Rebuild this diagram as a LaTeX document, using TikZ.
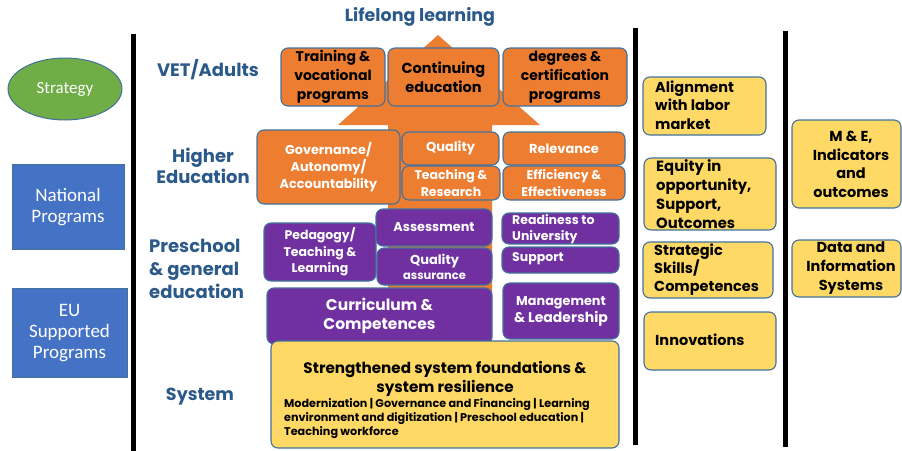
\documentclass[tikz,border=0pt]{standalone}
\usepackage{fontspec}
\setmainfont{Poppins}
\newfontfamily\calib{Carlito}
\usetikzlibrary{shapes.geometric}
\definecolor{orng}{HTML}{ED7D31}
\definecolor{purp}{HTML}{7030A0}
\definecolor{yell}{HTML}{FFD966}
\definecolor{bord}{HTML}{41719C}
\definecolor{grn}{HTML}{70AD47}
\definecolor{blu}{HTML}{4472C4}
\definecolor{lbl}{HTML}{2B5A8A}
\tikzset{
  bx/.style={draw=bord, line width=1.1pt, rounded corners=7pt, inner sep=0pt, align=center, font=\bfseries},
  ob/.style={bx, fill=orng},
  pb/.style={bx, fill=purp, text=white},
  yb/.style={bx, fill=yell},
  lab/.style={text=lbl, font=\bfseries, inner sep=0pt},
  sq/.style={fill=blu, draw=bord, line width=0.8pt, text=white, align=center, inner sep=0pt, font=\calib\fontsize{19}{21}\selectfont},
  vline/.style={line width=5pt, black},
  txt/.style={inner sep=0pt, font=\bfseries}
}
\begin{document}
\begin{tikzpicture}[x=1pt,y=-1pt]
\useasboundingbox (0,0) rectangle (902,450);
% vertical lines
\coordinate (l1t) at (133.5,34); \coordinate (l1b) at (133.5,452);
\coordinate (l2t) at (635,28); \coordinate (l2b) at (635,445);
\coordinate (l3t) at (785,31); \coordinate (l3b) at (785,447);
\draw[vline] (l1t) -- (l1b);
\draw[vline] (l2t) -- (l2b);
\draw[vline] (l3t) -- (l3b);
% left column
\node[ellipse, fill=grn, draw=bord, line width=1pt, minimum width=114, minimum height=62, inner sep=0pt, text=white, font=\calib\fontsize{17}{19}\selectfont] (strat) at (65,89) {Strategy};
\node[sq, minimum width=112, minimum height=85] (natp) at (68,207) {National\\Programs};
\node[sq, minimum width=115, minimum height=89] (eup) at (69.5,333) {EU\\Supported\\Programs};
% row labels
\node[lab, font=\bfseries\fontsize{17.5}{21}\selectfont] (lifel) at (420,17) {Lifelong learning};
\node[lab, font=\bfseries\fontsize{18}{21}\selectfont] (vet) at (208,70) {VET/Adults};
\node[lab, align=center, font=\bfseries\fontsize{18}{21}\selectfont] (higher) at (203,166) {Higher\\Education};
\node[lab, align=left, anchor=west, font=\bfseries\fontsize{18}{23}\selectfont] (presch) at (149,269) {Preschool\\\& general\\education};
\node[lab, font=\bfseries\fontsize{17.5}{21}\selectfont] (sys) at (200,397) {System};
% arrow
\fill[orng] (438,35) -- (540,125) -- (492,125) -- (492,346) -- (388,346) -- (388,125) -- (338,125) -- cycle;
% VET row
\node[ob, minimum width=104, minimum height=58, font=\bfseries\fontsize{14}{19}\selectfont] (train) at (333,77) {Training \&\\vocational\\programs};
\node[ob, minimum width=111, minimum height=58, font=\bfseries\fontsize{14.5}{19}\selectfont] (cont) at (443.5,77) {Continuing\\education};
\node[ob, minimum width=124, minimum height=58, font=\bfseries\fontsize{14}{19}\selectfont] (degr) at (565,77) {degrees \&\\certification\\programs};
% Higher education row
\node[ob, text=white, minimum width=143, minimum height=74, font=\bfseries\fontsize{12.8}{17}\selectfont] (gov) at (328.5,167) {Governance/\\Autonomy/\\Accountability};
\node[ob, text=white, minimum width=97, minimum height=33, font=\bfseries\fontsize{13}{17}\selectfont] (qual) at (450.5,148.5) {Quality};
\node[ob, text=white, minimum width=98, minimum height=34, font=\bfseries\fontsize{12.5}{17}\selectfont] (teach) at (451,183) {Teaching \&\\Research};
\node[ob, text=white, minimum width=122, minimum height=33, font=\bfseries\fontsize{13}{17}\selectfont] (relev) at (564,148.5) {Relevance};
\node[ob, text=white, minimum width=122, minimum height=34, font=\bfseries\fontsize{12.5}{17}\selectfont] (effic) at (564,183) {Efficiency \&\\Effectiveness};
% Preschool row
\node[pb, minimum width=112, minimum height=58, font=\bfseries\fontsize{12.5}{16.5}\selectfont] (peda) at (320,252) {Pedagogy/\\Teaching \&\\Learning};
\node[pb, minimum width=116, minimum height=37, font=\bfseries\fontsize{12.8}{16}\selectfont] (assess) at (434,227.5) {Assessment};
\node[pb, minimum width=115, minimum height=37, font=\bfseries\fontsize{13}{15}\selectfont] (qass) at (434.5,266.5) {Quality\\{\fontsize{11.5}{13}\selectfont assurance}};
\node[pb, minimum width=117, minimum height=31] (ready) at (560.5,228.5) {};
\node[txt, text=white, anchor=west, align=left, font=\bfseries\fontsize{12.5}{16}\selectfont] (readyt) at (512,229) {Readiness to\\University};
\node[pb, minimum width=117, minimum height=26] (supp) at (560.5,260) {};
\node[txt, text=white, anchor=west, font=\bfseries\fontsize{12.5}{16}\selectfont] (suppt) at (512,259) {Support};
\node[pb, minimum width=225, minimum height=56, font=\bfseries\fontsize{15.5}{18.5}\selectfont] (curr) at (379.5,316) {Curriculum \&\\Competences};
\node[pb, minimum width=116, minimum height=56, font=\bfseries\fontsize{12.8}{17}\selectfont] (mgmt) at (561,311) {Management\\{\fontsize{14}{17}\selectfont \& Leadership}};
% System
\node[yb, minimum width=348, minimum height=107] (system) at (445,394.5) {};
\node[txt, align=center, font=\bfseries\fontsize{15.2}{18.5}\selectfont] (systit) at (445,379) {Strengthened system foundations \&\\system resilience};
\node[txt, anchor=west, align=left, font=\bfseries\fontsize{11.2}{14}\selectfont] (syssub) at (284,418) {Modernization | Governance and Financing | Learning\\environment and digitization | Preschool education |\\Teaching workforce};
% right column 1
\node[yb, minimum width=123, minimum height=58] (align) at (704.5,106) {};
\node[txt, anchor=west, align=left, font=\bfseries\fontsize{14.5}{18.5}\selectfont] (alignt) at (655,105) {Alignment\\with labor\\market};
\node[yb, minimum width=132, minimum height=72] (equity) at (710,194) {};
\node[txt, anchor=west, align=left, font=\bfseries\fontsize{14.8}{19}\selectfont] (equityt) at (656,194) {Equity in\\opportunity,\\Support,\\Outcomes};
\node[yb, minimum width=130, minimum height=56] (skills) at (708,270) {};
\node[txt, anchor=west, align=left, font=\bfseries\fontsize{14.5}{18}\selectfont] (skillst) at (654,270) {Strategic\\Skills/\\Competences};
\node[yb, minimum width=132, minimum height=58] (innov) at (710,341) {};
\node[txt, anchor=west, align=left, font=\bfseries\fontsize{14.5}{18}\selectfont] (innovt) at (655,340) {Innovations};
% right column 2
\node[yb, minimum width=109, minimum height=88] (me) at (846.5,164) {};
\node[txt, align=center, font=\bfseries\fontsize{14.5}{18.5}\selectfont] (met) at (851,164.5) {M \& E,\\Indicators\\and\\outcomes};
\node[yb, minimum width=109, minimum height=57] (data) at (846.5,268.5) {};
\node[txt, align=center, font=\bfseries\fontsize{14.5}{19}\selectfont] (datat) at (851,268) {Data and\\Information\\Systems};
\end{tikzpicture}
\end{document}
